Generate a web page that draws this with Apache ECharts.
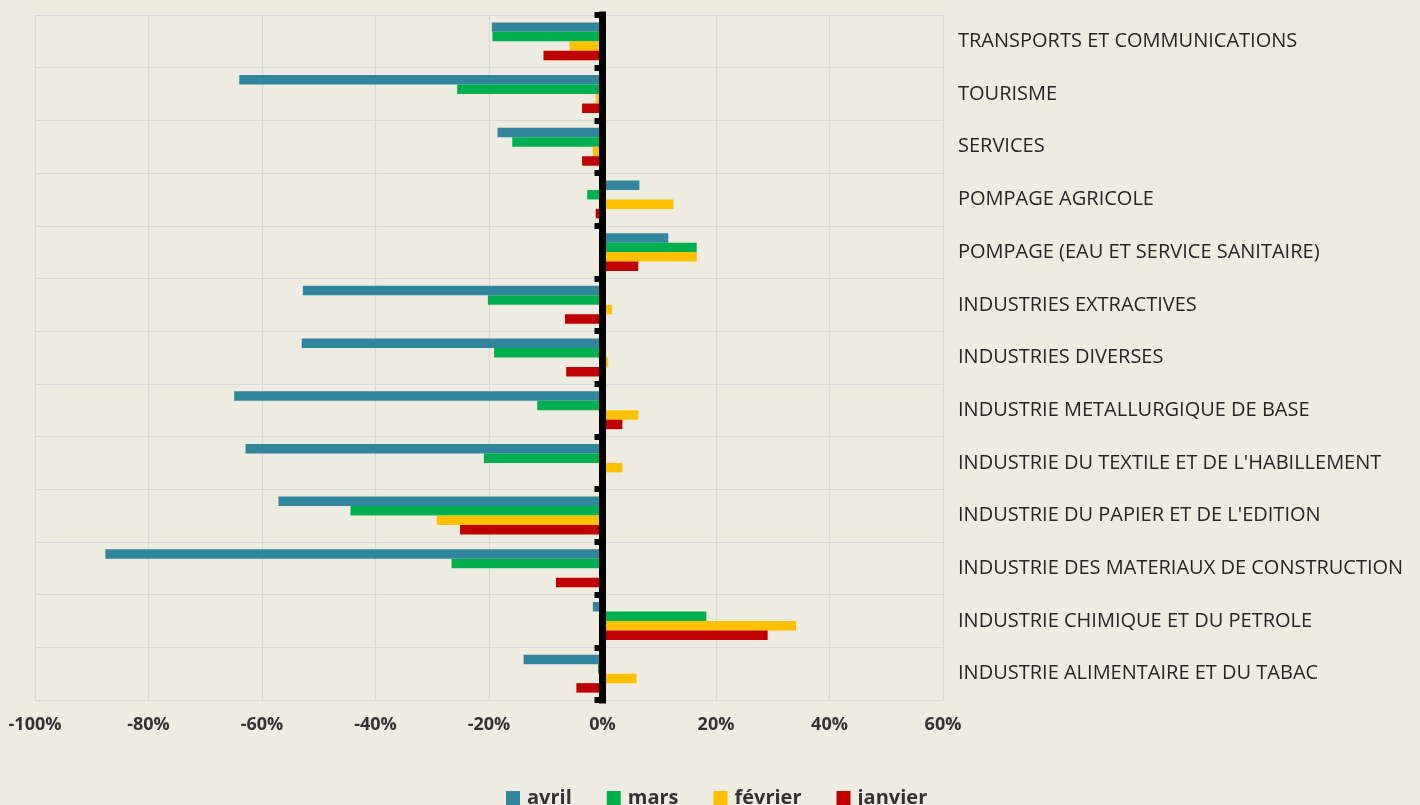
<!DOCTYPE html>
<html>
<head>
<meta charset="utf-8">
<script src="https://cdn.jsdelivr.net/npm/echarts@6/dist/echarts.min.js"></script>
<style>
html,body{margin:0;padding:0;background:#EEECE1;}
#chart{width:1420px;height:805px;}
</style>
</head>
<body>
<div id="chart"></div>
<script>
// Categories, top to bottom
const categories = [
  "TRANSPORTS ET COMMUNICATIONS",
  "TOURISME",
  "SERVICES",
  "POMPAGE AGRICOLE",
  "POMPAGE (EAU ET SERVICE SANITAIRE)",
  "INDUSTRIES EXTRACTIVES",
  "INDUSTRIES DIVERSES",
  "INDUSTRIE METALLURGIQUE DE BASE",
  "INDUSTRIE DU TEXTILE ET DE L'HABILLEMENT",
  "INDUSTRIE DU PAPIER ET DE L'EDITION",
  "INDUSTRIE DES MATERIAUX DE CONSTRUCTION",
  "INDUSTRIE CHIMIQUE ET DU PETROLE",
  "INDUSTRIE ALIMENTAIRE ET DU TABAC"
];
const seriesNames = ["avril", "mars", "février", "janvier"];
// values in percent, same order as categories
const avril   = [-19.5, -64.0, -18.5,  6.5, 11.6, -52.8, -53.0, -64.9, -62.9, -57.1, -87.6, -1.7, -13.9];
const mars    = [-19.4, -25.6, -15.9, -2.7, 16.6, -20.2, -19.1, -11.5, -20.9, -44.4, -26.6, 18.3, -0.8];
const fevrier = [ -5.8,  -1.2,  -1.7, 12.5, 16.6,   1.7,   1.0,   6.3,   3.5, -29.2,   0.0, 34.1,  6.0];
const janvier = [-10.4,  -3.6,  -3.6, -1.2,  6.3,  -6.6,  -6.4,   3.5,   0.0, -25.1,  -8.2, 29.1, -4.6];
const xTicks = { min: -100, max: 60, interval: 20 };

const colors = ["#31859C", "#00B050", "#FFC000", "#C00000"];
const dataSets = [avril, mars, fevrier, janvier];

const chart = echarts.init(document.getElementById('chart'), null, {renderer: 'canvas'});
const option = {
  backgroundColor: '#EEECE1',
  animation: false,
  color: colors,
  grid: { left: 35, right: 477, top: 15, bottom: 105, containLabel: false },
  legend: {
    data: seriesNames,
    top: 783,
    left: 501,
    itemWidth: 14,
    itemHeight: 14,
    itemGap: 35,
    icon: 'rect',
    textStyle: { fontFamily: 'Open Sans', fontWeight: 'bold', fontSize: 20, color: '#333333', padding: [0,0,0,2] }
  },
  xAxis: {
    type: 'value',
    min: xTicks.min, max: xTicks.max, interval: xTicks.interval,
    axisLine: { show: false },
    axisTick: { show: false },
    splitLine: { show: true, lineStyle: { color: '#D9D9D9', width: 1.2 } },
    axisLabel: {
      formatter: v => v + '%',
      fontFamily: 'Open Sans', fontWeight: 'bold', fontSize: 18, color: '#333333', margin: 16
    }
  },
  yAxis: [
    {
      type: 'category', data: categories, inverse: true,
      z: 10,
      axisLine: { show: true, onZero: true, lineStyle: { color: '#000000', width: 7, cap: 'square' } },
      axisTick: { show: true, length: 8, lineStyle: { color: '#000000', width: 6 } },
      axisLabel: { show: false },
      splitLine: { show: true, lineStyle: { color: '#D9D9D9', width: 1.2 } }
    },
    {
      type: 'category', data: categories, inverse: true, position: 'right',
      axisLine: { show: false },
      axisTick: { show: false },
      splitLine: { show: false },
      axisLabel: {
        margin: 15, align: 'left',
        fontFamily: 'Open Sans', fontSize: 20, color: '#262626'
      }
    }
  ],
  series: seriesNames.map((n, i) => ({
    name: n, type: 'bar', data: dataSets[i],
    yAxisIndex: 0,
    barGap: '0%', barCategoryGap: '28%',
    itemStyle: { color: colors[i] }
  }))
};
chart.setOption(option);
</script>
</body>
</html>
